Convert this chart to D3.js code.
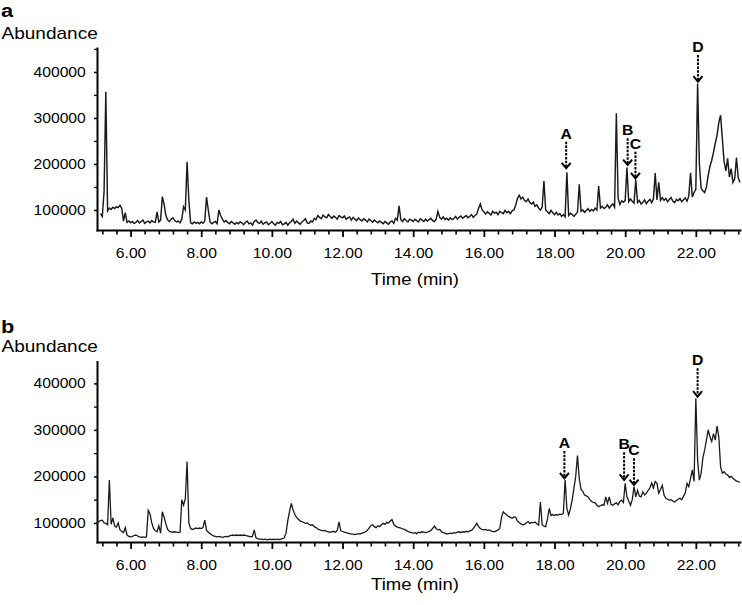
<!DOCTYPE html>
<html><head><meta charset="utf-8">
<script src="https://cdn.jsdelivr.net/npm/d3@7"></script>
<style>
body{margin:0;background:#fff}
svg{display:block;background:#fff}
text{font-family:"Liberation Sans",Arial,Helvetica,sans-serif;fill:#000}
</style>
</head><body>
<svg id="chart" width="742" height="605"></svg>
<script>
// ---------- shared axis values ----------
const xTickValues = [6, 8, 10, 12, 14, 16, 18, 20, 22];
const yTickValues = [100000, 200000, 300000, 400000];
const peakLabels = ["A", "B", "C", "D"];

// ---------- panel a : total ion chromatogram ----------
const scanStartA = 5.15, scanStepA = 0.05; // min
const abundanceA = [
  92000, 86000, 140000, 357000, 98000, 104000, 101000, 106000, 103000, 107000, 105000, 110000, 104000, 76000, 94000, 73000, 76000, 72000,
  75000, 71000, 73000, 77000, 72000, 75000, 78000, 71000, 74000, 76000, 72000, 77000, 74000, 73000, 96000, 74000, 78000, 129000, 112000, 88000,
  78000, 75000, 80000, 83000, 77000, 74000, 76000, 72000, 80000, 107000, 100000, 205000, 120000, 72000, 70000, 74000, 71000, 73000, 70000, 74000,
  71000, 76000, 128000, 100000, 74000, 70000, 73000, 75000, 70000, 100000, 88000, 80000, 74000, 77000, 73000, 70000, 75000, 72000, 69000, 73000,
  70000, 74000, 72000, 68000, 73000, 76000, 70000, 72000, 67000, 75000, 78000, 73000, 71000, 76000, 69000, 72000, 74000, 68000, 71000, 75000,
  70000, 67000, 73000, 71000, 75000, 68000, 70000, 73000, 67000, 72000, 75000, 80000, 71000, 76000, 72000, 69000, 74000, 77000, 81000, 72000,
  71000, 76000, 74000, 82000, 79000, 88000, 84000, 81000, 89000, 85000, 83000, 90000, 86000, 82000, 87000, 84000, 80000, 88000, 85000, 83000,
  87000, 80000, 83000, 85000, 78000, 84000, 80000, 77000, 83000, 79000, 76000, 81000, 78000, 74000, 80000, 77000, 73000, 78000, 75000, 72000,
  76000, 73000, 70000, 75000, 72000, 69000, 74000, 76000, 71000, 82000, 78000, 109000, 79000, 75000, 81000, 77000, 74000, 80000, 78000, 75000,
  80000, 77000, 74000, 81000, 78000, 75000, 80000, 76000, 79000, 82000, 77000, 75000, 80000, 97000, 84000, 80000, 85000, 79000, 82000, 78000,
  83000, 79000, 81000, 86000, 80000, 84000, 87000, 82000, 85000, 88000, 83000, 86000, 90000, 84000, 88000, 91000, 104000, 113000, 100000, 96000,
  91000, 96000, 93000, 89000, 97000, 93000, 95000, 90000, 97000, 94000, 92000, 99000, 94000, 97000, 92000, 98000, 100000, 110000, 125000, 132000,
  124000, 128000, 121000, 118000, 124000, 116000, 113000, 117000, 108000, 111000, 104000, 100000, 106000, 163000, 100000, 96000, 92000, 99000, 94000, 90000,
  95000, 89000, 92000, 86000, 90000, 85000, 182000, 88000, 93000, 90000, 86000, 91000, 95000, 156000, 97000, 100000, 95000, 99000, 103000, 97000,
  101000, 98000, 104000, 100000, 152000, 104000, 108000, 103000, 106000, 111000, 104000, 109000, 113000, 106000, 310000, 125000, 112000, 120000, 117000, 121000,
  192000, 118000, 124000, 119000, 115000, 165000, 116000, 121000, 113000, 117000, 122000, 114000, 119000, 123000, 116000, 124000, 180000, 122000, 160000, 121000,
  127000, 121000, 125000, 118000, 123000, 127000, 119000, 116000, 123000, 120000, 125000, 118000, 122000, 126000, 119000, 130000, 181000, 128000, 138000, 145000,
  375000, 200000, 147000, 142000, 138000, 150000, 175000, 195000, 208000, 225000, 245000, 262000, 290000, 306000, 255000, 205000, 185000, 212000, 172000, 190000,
  160000, 168000, 214000, 170000, 160000
];
const peakTimesA = [18.33, 20.07, 20.29, 22.06];
const arrowTipA = [190600, 197700, 168800, 378800];
const arrowTailA = [248400, 255800, 226600, 436800];

// ---------- panel b ----------
const scanStartB = 5.05, scanStepB = 0.05; // min
const abundanceB = [
  101000, 103000, 105000, 106000, 100000, 99000, 96000, 192000, 97000, 111000, 93000, 91000, 100000, 85000, 82000, 79000, 90000, 74000, 71000, 70000,
  71000, 73000, 74000, 72000, 70000, 69000, 70000, 69000, 70000, 127000, 120000, 100000, 88000, 83000, 81000, 94000, 78000, 124000, 112000, 98000,
  86000, 82000, 81000, 80000, 81000, 80000, 79000, 80000, 150000, 138000, 152000, 232000, 100000, 88000, 86000, 87000, 89000, 88000, 89000, 88000,
  90000, 106000, 84000, 80000, 77000, 74000, 72000, 71000, 70000, 71000, 70000, 69000, 70000, 71000, 70000, 72000, 73000, 74000, 73000, 74000,
  73000, 74000, 73000, 74000, 73000, 72000, 71000, 70000, 71000, 85000, 68000, 66000, 65000, 65000, 64000, 65000, 64000, 64000, 65000, 64000,
  65000, 64000, 65000, 64000, 65000, 66000, 68000, 78000, 105000, 125000, 142000, 128000, 118000, 112000, 108000, 104000, 103000, 101000, 99000, 100000,
  97000, 95000, 96000, 92000, 90000, 87000, 85000, 84000, 83000, 84000, 82000, 81000, 80000, 81000, 82000, 80000, 84000, 102000, 83000, 82000,
  80000, 79000, 78000, 77000, 76000, 76000, 75000, 76000, 77000, 76000, 78000, 79000, 81000, 84000, 89000, 94000, 96000, 92000, 90000, 94000,
  92000, 96000, 99000, 97000, 101000, 100000, 104000, 107000, 97000, 93000, 91000, 90000, 89000, 87000, 86000, 84000, 82000, 80000, 79000, 78000,
  79000, 77000, 80000, 79000, 81000, 80000, 79000, 80000, 82000, 84000, 88000, 93000, 88000, 85000, 86000, 81000, 79000, 78000, 76000, 77000,
  78000, 77000, 79000, 78000, 80000, 81000, 79000, 81000, 80000, 82000, 81000, 83000, 84000, 88000, 93000, 99000, 92000, 88000, 86000, 85000,
  86000, 84000, 85000, 83000, 82000, 81000, 83000, 85000, 88000, 112000, 124000, 120000, 117000, 114000, 112000, 110000, 113000, 112000, 104000, 101000,
  98000, 96000, 97000, 100000, 103000, 99000, 101000, 100000, 102000, 98000, 95000, 145000, 96000, 93000, 92000, 108000, 131000, 116000, 118000, 116000,
  118000, 117000, 119000, 118000, 121000, 192000, 131000, 117000, 130000, 150000, 175000, 200000, 245000, 195000, 172000, 168000, 160000, 158000, 156000, 150000,
  146000, 144000, 143000, 138000, 135000, 137000, 139000, 138000, 156000, 142000, 156000, 140000, 138000, 141000, 143000, 139000, 146000, 149000, 144000, 185000,
  156000, 147000, 138000, 150000, 178000, 156000, 170000, 158000, 156000, 167000, 160000, 164000, 170000, 175000, 186000, 175000, 189000, 185000, 164000, 172000,
  181000, 160000, 153000, 151000, 149000, 150000, 147000, 145000, 148000, 151000, 153000, 150000, 157000, 164000, 185000, 178000, 196000, 214000, 189000, 368000,
  235000, 192000, 207000, 240000, 257000, 278000, 300000, 285000, 275000, 292000, 278000, 308000, 285000, 221000, 207000, 210000, 205000, 203000, 198000, 200000,
  196000, 193000, 190000, 189000, 187000
];
const peakTimesB = [18.28, 19.97, 20.25, 22.05];
const arrowTipB = [195900, 192300, 181500, 371300];
const arrowTailB = [254600, 251800, 238900, 432400];

// ---------- drawing ----------
const svg = d3.select("#chart");
svg.append("rect").attr("width", 742).attr("height", 605).attr("fill", "#fff");

function stretchedText(parent, x, y, str, size, sx, weight, anchor) {
  const g = parent.append("g").attr("transform", `translate(${x},${y})`);
  g.append("text")
    .attr("transform", `scale(${sx},1)`)
    .attr("text-anchor", anchor || "start")
    .attr("font-size", size)
    .attr("font-weight", weight || "normal")
    .text(str);
  return g;
}

const panels = [
  { letter: "a", values: abundanceA, start: scanStartA, step: scanStepA,
    yDomain: [56500, 452000], yRange: [230, 48], lineW: 1.45,
    letterY: 17, abundY: 39.3, timeY: 285,
    peakTimes: peakTimesA, tips: arrowTipA, tails: arrowTailA },
  { letter: "b", values: abundanceB, start: scanStartB, step: scanStepB,
    yDomain: [59000, 447000], yRange: [542, 361.5], lineW: 1.3,
    letterY: 333, abundY: 351.7, timeY: 590,
    peakTimes: peakTimesB, tips: arrowTipB, tails: arrowTailB }
];

const x = d3.scaleLinear().domain([5.05, 23.25]).range([97, 740]);
const minorX = d3.range(5.2, 23.21, 0.4).map(v => +v.toFixed(1)).filter(v => !xTickValues.includes(v));

panels.forEach(p => {
  const g = svg.append("g");
  const y = d3.scaleLinear().domain(p.yDomain).range(p.yRange);
  const bottom = p.yRange[0];
  const pts = p.values.map((v, i) => [p.start + i * p.step, v]);

  // trace
  g.append("path").datum(pts)
    .attr("d", d3.line().x(d => x(d[0])).y(d => y(d[1])))
    .attr("fill", "none").attr("stroke", "#1a1a1a")
    .attr("stroke-width", p.lineW).attr("stroke-linejoin", "miter");

  // x axis minor ticks
  g.append("g").attr("transform", `translate(0,${bottom})`)
    .call(d3.axisBottom(x).tickValues(minorX).tickSize(4.5).tickSizeOuter(0).tickFormat(""))
    .call(s => s.select(".domain").remove())
    .call(s => s.selectAll("line").attr("stroke", "#000").attr("stroke-width", 1.6));
  // x axis major ticks + labels
  const xa = g.append("g").attr("transform", `translate(0,${bottom})`)
    .call(d3.axisBottom(x).tickValues(xTickValues).tickSize(7).tickSizeOuter(0)
      .tickPadding(11).tickFormat(d3.format(".2f")));
  xa.select(".domain").attr("stroke", "#000").attr("stroke-width", 2).attr("stroke-linecap", "square");
  xa.selectAll("line").attr("stroke", "#000").attr("stroke-width", 1.8);
  xa.selectAll("text").attr("font-size", 14).attr("font-family", '"Liberation Sans",Arial,sans-serif')
    .attr("fill", "#000").attr("transform", "scale(1.12,1)");

  // y axis minor ticks
  const minorY = d3.range(100000, p.yDomain[1], 50000).filter(v => !yTickValues.includes(v));
  g.append("g").attr("transform", "translate(97,0)")
    .call(d3.axisLeft(y).tickValues(minorY).tickSize(3).tickSizeOuter(0).tickFormat(""))
    .call(s => s.select(".domain").remove())
    .call(s => s.selectAll("line").attr("stroke", "#000").attr("stroke-width", 1.3));
  const ya = g.append("g").attr("transform", "translate(97,0)")
    .call(d3.axisLeft(y).tickValues(yTickValues).tickSize(3).tickSizeOuter(0).tickPadding(7)
      .tickFormat(d3.format("d")));
  ya.select(".domain").attr("stroke", "#000").attr("stroke-width", 2).attr("stroke-linecap", "square");
  ya.selectAll("line").attr("stroke", "#000").attr("stroke-width", 1.5);
  ya.selectAll("text").attr("font-size", 14).attr("font-family", '"Liberation Sans",Arial,sans-serif')
    .attr("fill", "#000").attr("transform", "scale(1.12,1)");

  // panel letter, axis titles
  stretchedText(g, 1, p.letterY, p.letter, 19, 1.15, "bold");
  stretchedText(g, 1.5, p.abundY, "Abundance", 17, 1.12);
  stretchedText(g, 415, p.timeY, "Time (min)", 17, 1.09, "normal", "middle");

  // peak annotations
  peakLabels.forEach((lab, i) => {
    const ax = x(p.peakTimes[i]);
    const tipY = y(p.tips[i]);
    const tailY = y(p.tails[i]);
    g.append("line").attr("x1", ax).attr("x2", ax).attr("y1", tailY).attr("y2", tipY - 1.5)
      .attr("stroke", "#000").attr("stroke-width", 2).attr("stroke-dasharray", "2.5,1.3");
    g.append("path")
      .attr("d", `M${ax - 4.5},${tipY - 5.5}L${ax},${tipY}L${ax + 4.5},${tipY - 5.5}`)
      .attr("fill", "none").attr("stroke", "#000").attr("stroke-width", 2);
    stretchedText(g, ax, tailY - 3, lab, 15, 1.05, "bold", "middle");
  });
});
</script>
</body></html>
